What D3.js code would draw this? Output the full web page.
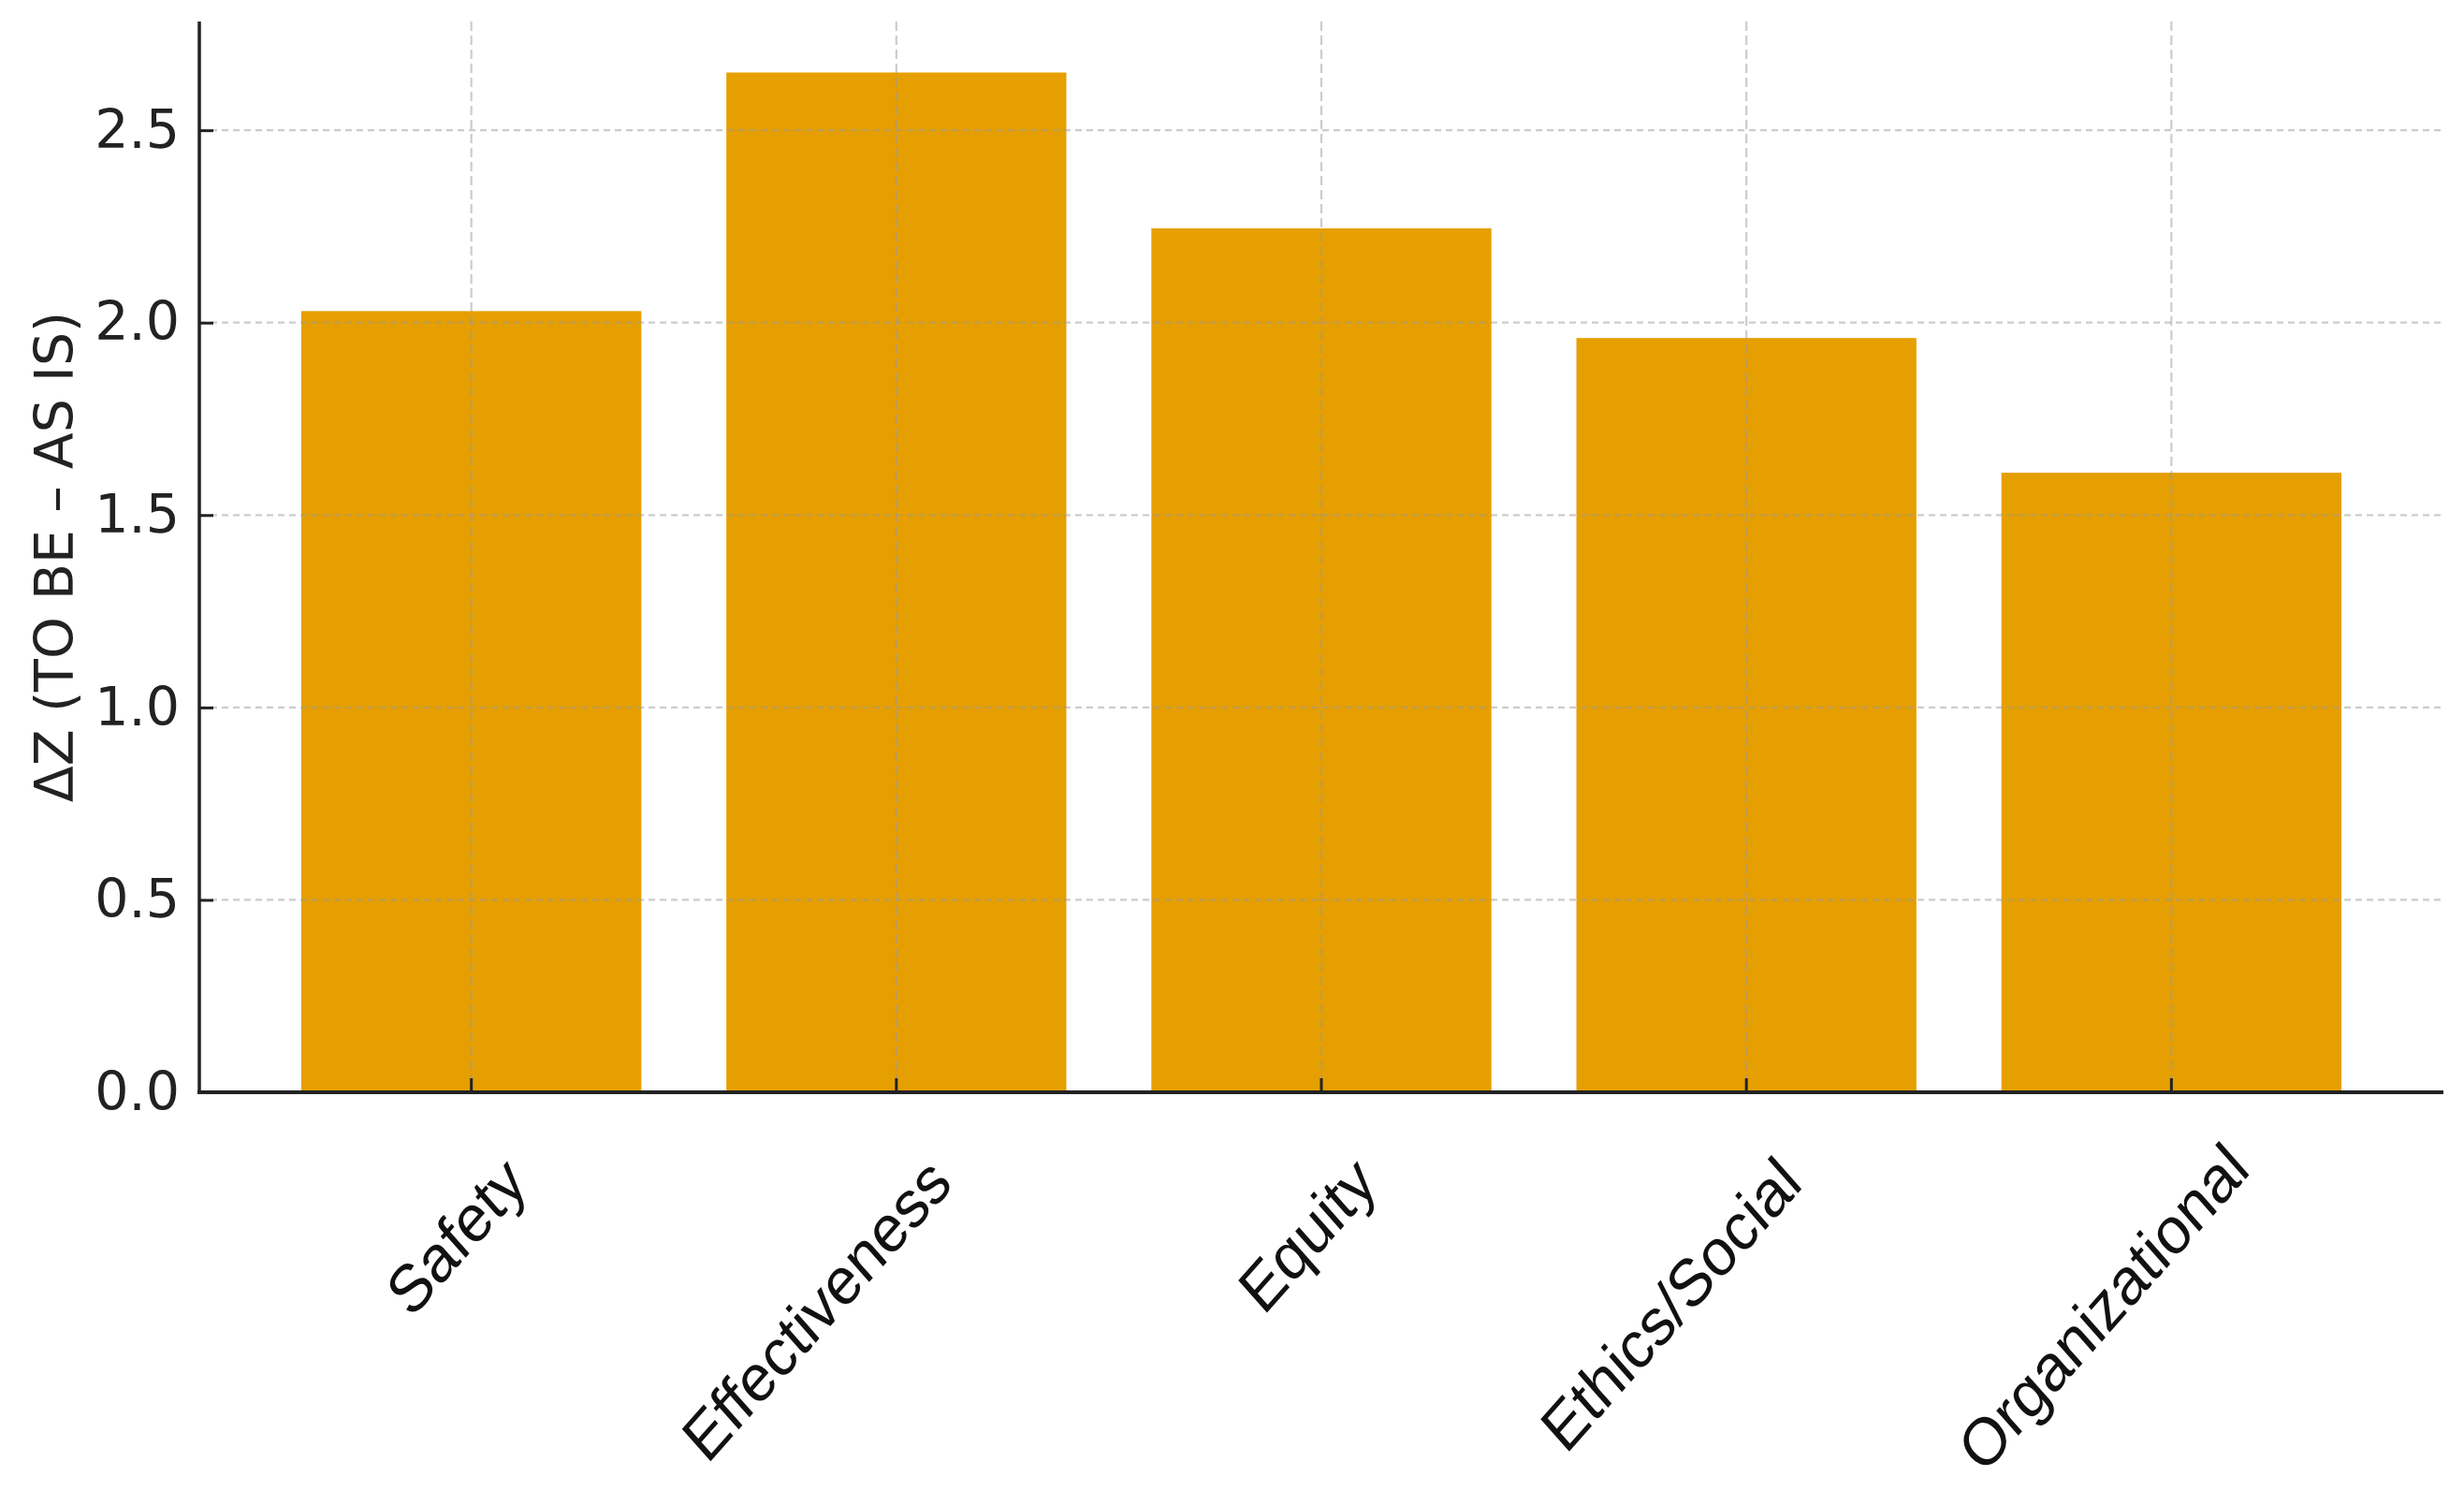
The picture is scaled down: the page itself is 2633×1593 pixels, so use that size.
<!DOCTYPE html>
<html>
<head>
<meta charset="utf-8">
<script src="https://cdn.jsdelivr.net/npm/d3@7"></script>
<style>
  html, body { margin: 0; padding: 0; background: #fff; }
  svg { display: block; }
</style>
</head>
<body>
<svg id="chart" width="2633" height="1593"></svg>
<script>
// ---- data ----
const categories = ["Safety", "Effectiveness", "Equity", "Ethics/Social", "Organizational"];
const deltaZ = [2.03, 2.65, 2.245, 1.96, 1.61];
const yTicks = [0.0, 0.5, 1.0, 1.5, 2.0, 2.5];
const yLabel = "ΔZ (TO BE – AS IS)";

// ---- layout ----
const W = 2633, H = 1593;
const margin = { left: 213, right: 22, top: 23, bottom: 426 };
const plotL = margin.left, plotR = W - margin.right;
const plotT = margin.top, plotB = H - margin.bottom;

const svg = d3.select("#chart");
svg.append("rect").attr("width", W).attr("height", H).attr("fill", "#fff");

const x = d3.scaleBand()
  .domain(categories)
  .range([plotL, plotR])
  .paddingInner(0.2)
  .paddingOuter(0.24);

const y = d3.scaleLinear()
  .domain([0, d3.max(deltaZ) * 1.05])
  .range([plotB, plotT]);

// bars
svg.append("g").selectAll("rect")
  .data(categories.map((c, i) => ({ c, v: deltaZ[i] })))
  .join("rect")
  .attr("x", d => x(d.c))
  .attr("y", d => y(d.v))
  .attr("width", x.bandwidth())
  .attr("height", d => y(0) - y(d.v))
  .attr("fill", "#E69F00");

// grid (drawn over bars, translucent)
const grid = svg.append("g").attr("stroke", "#999").attr("stroke-opacity", 0.5).attr("stroke-width", 2.2);
grid.selectAll("line.h").data(yTicks.filter(t => t > 0)).join("line")
  .attr("class", "h")
  .attr("x1", plotL).attr("x2", plotR)
  .attr("y1", d => y(d)).attr("y2", d => y(d))
  .attr("stroke-dasharray", "7,5");
grid.selectAll("line.v").data(categories).join("line")
  .attr("class", "v")
  .attr("x1", d => x(d) + x.bandwidth() / 2).attr("x2", d => x(d) + x.bandwidth() / 2)
  .attr("y1", plotT).attr("y2", plotB)
  .attr("stroke-dasharray", "10,5");

// y axis
const yAxis = d3.axisLeft(y).tickValues(yTicks).tickFormat(d3.format(".1f")).tickSizeInner(-15).tickSizeOuter(0).tickPadding(21);
const gy = svg.append("g").attr("transform", `translate(${plotL},0)`).call(yAxis);
gy.select(".domain").remove();
gy.selectAll(".tick line").attr("stroke", "#222").attr("stroke-width", 3);
gy.selectAll(".tick text")
  .attr("x", -21)
  .attr("font-family", "'DejaVu Sans', sans-serif")
  .attr("font-size", 57)
  .attr("fill", "#222");

// x axis
const xAxis = d3.axisBottom(x).tickSizeInner(-15).tickSizeOuter(0).tickFormat("");
const gx = svg.append("g").attr("transform", `translate(0,${plotB})`).call(xAxis);
gx.select(".domain").remove();
gx.selectAll(".tick line").attr("stroke", "#222").attr("stroke-width", 3);

// spines
svg.append("line").attr("x1", plotL).attr("x2", plotL).attr("y1", plotT).attr("y2", plotB + 2)
  .attr("stroke", "#222").attr("stroke-width", 3.5);
svg.append("line").attr("x1", plotL - 2).attr("x2", plotR).attr("y1", plotB).attr("y2", plotB)
  .attr("stroke", "#222").attr("stroke-width", 4);

// category labels (rotated, slightly stretched vertically as in the reference)
const stretch = 1.13;
const labelPos = d => [x(d) + x.bandwidth() / 2 + 62, plotB + 100];
const labels = svg.append("g").selectAll("text")
  .data(categories)
  .join("text")
  .attr("transform", d => { const [px, py] = labelPos(d); return `translate(${px},${py}) scale(1,${stretch}) rotate(-45)`; })
  .attr("text-anchor", "end")
  .attr("font-family", "'Liberation Sans', Arial, sans-serif")
  .attr("font-size", 63)
  .attr("fill", "#111")
  .text(d => d);

// keep long labels inside the canvas: slide them up-right along their own direction
labels.each(function (d) {
  const r = this.getBoundingClientRect();
  const limit = H - 6;
  if (r.bottom > limit) {
    const over = r.bottom - limit;
    const [px, py] = labelPos(d);
    d3.select(this).attr("transform",
      `translate(${px + over * 1.6},${py - over}) scale(1,${stretch}) rotate(-45)`);
  }
});

// y label
svg.append("text")
  .attr("transform", `translate(78,${(plotT + plotB) / 2}) rotate(-90)`)
  .attr("text-anchor", "middle")
  .attr("font-family", "'DejaVu Sans', sans-serif")
  .attr("font-size", 57)
  .attr("fill", "#222")
  .text(yLabel);
</script>
</body>
</html>
